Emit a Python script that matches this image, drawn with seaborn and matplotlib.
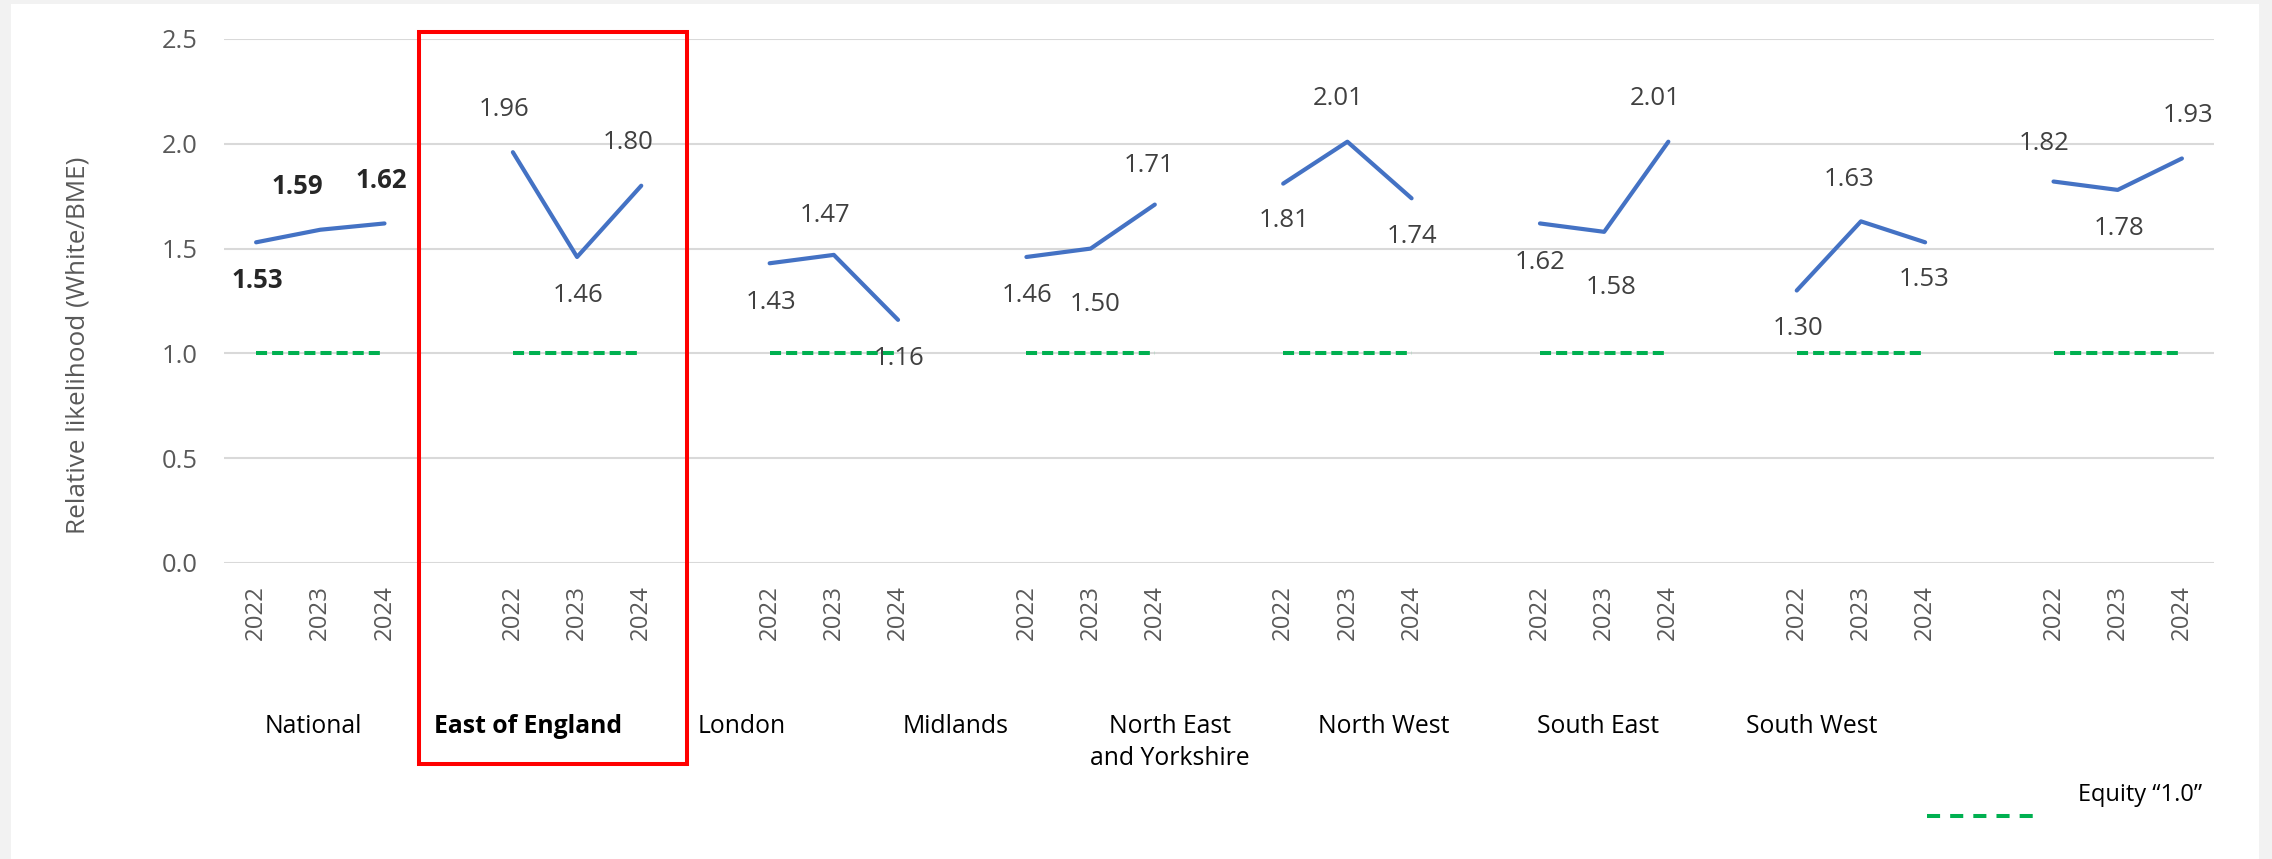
import numpy as np
import pandas as pd
import seaborn as sns
import matplotlib.pyplot as plt
import matplotlib.transforms as mtransforms
from matplotlib.patches import Rectangle
from matplotlib.lines import Line2D

# data
regions = ["National", "East of England", "London", "Midlands",
           "North East\nand Yorkshire", "North West", "South East", "South West"]
years = ["2022", "2023", "2024"]
v2022 = [1.53, 1.96, 1.43, 1.46, 1.81, 1.62, 1.30, 1.82]
v2023 = [1.59, 1.46, 1.47, 1.50, 2.01, 1.58, 1.63, 1.78]
v2024 = [1.62, 1.80, 1.16, 1.71, 1.74, 2.01, 1.53, 1.93]
equity = 1.0

# label nudges in pixels (dx, dy down), region by region, year by year
label_dx = [1, -23, -3,  -9, 1, -13,  1, -9, 1,  1, 5, -6,
            1, -9, 0,  0, 7, -13,  1, -12, -1,  -9, 1, 6]
label_dy = [38, -43, -43,  -43, 39, -43,  39, -39, 39,  39, 56, -39,
            37, -43, 38,  39, 56, -43,  38, -42, 37,  -38, 39, -43]

rows = []
for i, reg in enumerate(regions):
    for j, (yr, vals) in enumerate(zip(years, [v2022, v2023, v2024])):
        rows.append({"region": reg, "year": yr, "pos": i * 4 + j,
                     "value": vals[i], "equity": equity})
df = pd.DataFrame(rows)

sns.set_theme(style="white")
plt.rcParams["font.family"] = ["Open Sans", "DejaVu Sans"]

W, H = 2272, 859
fig = plt.figure(figsize=(W / 100, H / 100), dpi=100, facecolor="#f2f2f2")
fig.patches.append(Rectangle((11 / W, 0), (2259 - 11) / W, (H - 4) / H,
                             transform=fig.transFigure, facecolor="white",
                             edgecolor="none", zorder=-10))

ax = fig.add_axes([224 / W, 1 - 563 / H, (2214 - 224) / W, (563 - 39) / H])
ax.set_facecolor("none")

sns.lineplot(data=df, x="pos", y="value", units="region", estimator=None,
             color="#4472C4", linewidth=3.0, sort=False, ax=ax)
sns.lineplot(data=df, x="pos", y="equity", units="region", estimator=None,
             color="#00B050", linewidth=2.9, linestyle=(0, (2.75, 1.25)),
             sort=False, ax=ax)

for k, r in df.iterrows():
    bold = r["region"] == "National"
    ax.annotate(f"{r['value']:.2f}", (r["pos"], r["value"]),
                xytext=(label_dx[k], -label_dy[k]), textcoords="offset pixels",
                ha="center", va="center", fontsize=18.5,
                color="#262626" if bold else "#404040",
                fontweight="bold" if bold else "normal")

ax.set_xlim(-0.5, 30.5)
ax.set_ylim(0, 2.5)
ax.set_yticks(np.arange(0, 2.51, 0.5))
ax.set_yticklabels([f"{t:.1f}" for t in np.arange(0, 2.51, 0.5)])
ax.set_xticks(df["pos"])
ax.set_xticklabels(df["year"], rotation=90)
ax.tick_params(axis="y", length=0, pad=19, labelsize=18.4, labelcolor="#595959")
ax.tick_params(axis="x", length=0, pad=16, labelsize=17.3, labelcolor="#595959")
ax.grid(axis="y", color="#d9d9d9", linewidth=1.5)
ax.set_axisbelow(True)
ax.set_xlabel("")
ax.set_ylabel("")
sns.despine(ax=ax, left=True, bottom=True)

# region names under the years
trans = mtransforms.blended_transform_factory(ax.transData, fig.transFigure)
for i, reg in enumerate(regions):
    ax.text(0.9 + i * 3.334, 1 - 714 / H, reg, transform=trans, ha="center",
            va="top", fontsize=17.8, color="black", linespacing=1.35,
            fontweight="bold" if reg == "East of England" else "normal")

fig.text(78 / W, 1 - 345 / H, "Relative likelihood (White/BME)", rotation=90,
         ha="center", va="center", fontsize=18.8, color="#595959")

# highlight box
fig.add_artist(Rectangle((419 / W, 1 - 764 / H), (687 - 419) / W, (764 - 32) / H,
                         transform=fig.transFigure, fill=False,
                         edgecolor="#ff0000", linewidth=2.9, zorder=5))

# legend
fig.add_artist(Line2D([1927 / W, 2033 / W], [1 - 816 / H] * 2,
                      transform=fig.transFigure, color="#00B050", linewidth=2.9,
                      linestyle=(0, (3.25, 2.5))))
fig.text(2078 / W, 1 - 795 / H, "Equity \u201c1.0\u201d", ha="left", va="center",
         fontsize=17, color="black")

fig.savefig("out.png", dpi=100, facecolor=fig.get_facecolor())
